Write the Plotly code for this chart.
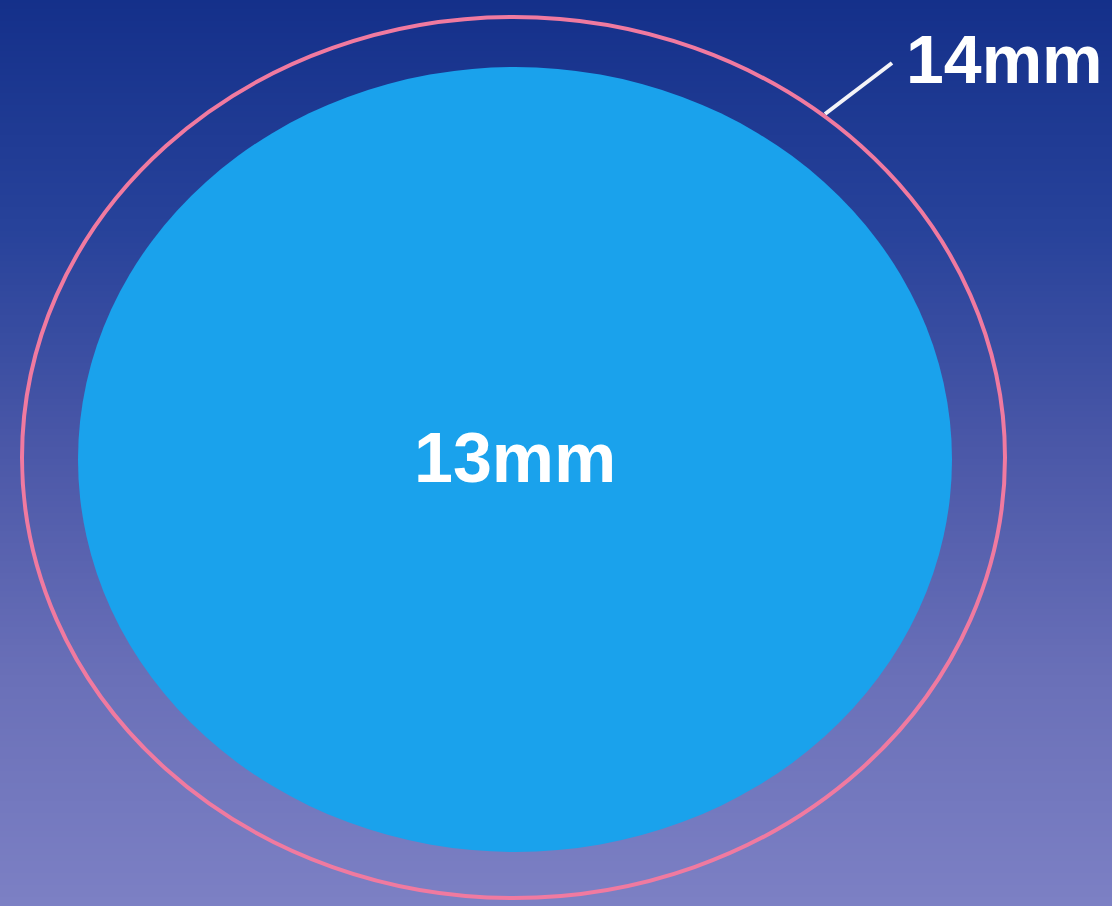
import plotly.graph_objects as go

W, H = 1112, 906

# background gradient rows (pixel y) and colour stops
grad_y = list(range(0, 907, 6))
grad_stops = [[0.0, "#14308a"], [0.25, "#27429a"], [0.5, "#4b58a8"], [0.75, "#6a70b8"], [1.0, "#7c80c4"]]

# ellipse extents (pixels): outer ring 14mm, inner disc 13mm
outer_box = [22, 17, 1005, 898]
inner_box = [78, 67, 952, 852]

labels = ["13mm", "14mm"]
label_x = [515, 1004]
label_y = [458, 59]
label_size = [70, 68]

leader_x = [825, 892]
leader_y = [114, 63]

fig = go.Figure()
fig.add_trace(go.Heatmap(
    x=[0, W], y=grad_y,
    z=[[v / H, v / H] for v in grad_y],
    colorscale=grad_stops, showscale=False, hoverinfo="skip",
    zmin=0, zmax=1,
))

fig.add_shape(type="circle", xref="x", yref="y",
              x0=inner_box[0], y0=inner_box[1], x1=inner_box[2], y1=inner_box[3],
              fillcolor="#1aa2ec", line=dict(width=0), layer="above")
fig.add_shape(type="circle", xref="x", yref="y",
              x0=outer_box[0], y0=outer_box[1], x1=outer_box[2], y1=outer_box[3],
              line=dict(color="#f07aa0", width=4), layer="above")

fig.add_trace(go.Scatter(x=leader_x, y=leader_y, mode="lines",
                         line=dict(color="#f4f4f8", width=4), hoverinfo="skip"))

for t, x, y, s in zip(labels, label_x, label_y, label_size):
    fig.add_annotation(x=x, y=y, text="<b>%s</b>" % t, showarrow=False,
                       font=dict(family="Liberation Sans, Arial", size=s, color="white"),
                       xanchor="center", yanchor="middle")

fig.update_layout(
    width=W, height=H, margin=dict(l=0, r=0, t=0, b=0),
    showlegend=False, paper_bgcolor="#14308a", plot_bgcolor="#14308a",
    xaxis=dict(range=[0, W], visible=False, fixedrange=True),
    yaxis=dict(range=[H, 0], visible=False, fixedrange=True),
)

fig.write_html("out.html", config={"displayModeBar": False},
               post_script="document.body.style.margin='0';document.body.style.overflow='hidden';")
